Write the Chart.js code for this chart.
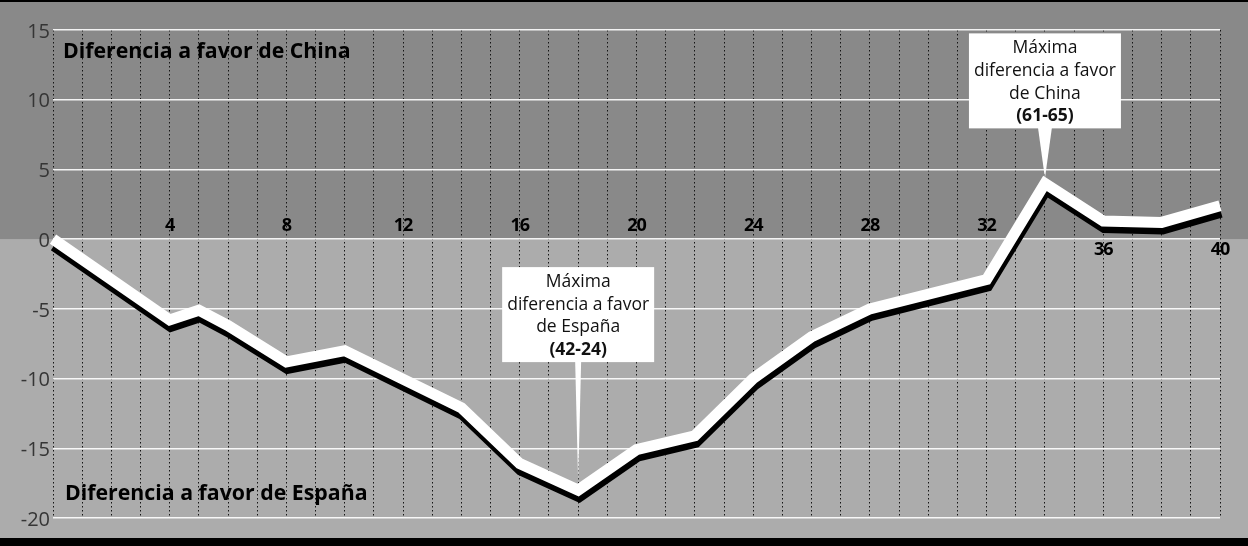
<!DOCTYPE html>
<html>
<head>
<meta charset="utf-8">
<script src="https://cdn.jsdelivr.net/npm/chart.js@4.4.1/dist/chart.umd.min.js"></script>
<style>
html, body { margin: 0; padding: 0; background: #a0a0a0; }
#wrap { width: 1248px; height: 546px; position: relative; }
</style>
</head>
<body>
<div id="wrap"><canvas id="chart"></canvas></div>
<script>
// Minute of the game and score difference (China minus España)
const minutes = [0, 4, 5, 6, 8, 10, 14, 16, 18, 20, 22, 24, 26, 28, 32, 34, 36, 38, 40];
const difference = [0, -5.8, -5.1, -6.2, -8.8, -8.0, -12.1, -16.1, -18, -15.1, -14.1, -10.0, -7.0, -5.0, -2.9, 4, 1.3, 1.2, 2.4];
const xTickLabels = [4, 8, 12, 16, 20, 24, 28, 32, 36, 40];
const yTickLabels = [15, 10, 5, 0, -5, -10, -15, -20];
const zoneLabels = ['Diferencia a favor de China', 'Diferencia a favor de España'];
const noteMinutes = [18, 34];
const noteValues = [-18, 4];
const noteTexts = [
    ['Máxima', 'diferencia a favor', 'de España', '(42-24)'],
    ['Máxima', 'diferencia a favor', 'de China', '(61-65)']
];


// value of the line at a given minute, only used to put x labels clear of the line
function LineAt(m) {
    for (let i = 1; i < minutes.length; i++) {
        if (m <= minutes[i]) {
            const t = (m - minutes[i-1]) / (minutes[i] - minutes[i-1]);
            return difference[i-1] + t * (difference[i] - difference[i-1]);
        }
    }
    return difference[difference.length-1];
}


const paper = {
    id: 'paper',
    beforeDraw(chart) {
        const ctx = chart.ctx;
        const zero = chart.scales.y.getPixelForValue(0);
        ctx.save();
        ctx.fillStyle = '#898989';
        ctx.fillRect(0, 0, chart.width, zero);
        ctx.fillStyle = '#acacac';
        ctx.fillRect(0, zero, chart.width, chart.height - zero);
        ctx.fillStyle = '#000';
        ctx.fillRect(0, 0, chart.width, 2);
        ctx.fillRect(0, chart.height - 8, chart.width, 8);
        ctx.restore();
    },
    beforeDatasetsDraw(chart) {
        // hard black shadow under the white line
        const ctx = chart.ctx;
        ctx.save();
        ctx.shadowColor = '#000';
        ctx.shadowBlur = 0;
        ctx.shadowOffsetX = 1;
        ctx.shadowOffsetY = 6.5;
    },
    afterDatasetsDraw(chart) {
        chart.ctx.restore();
    },
    afterDraw(chart) {
        const ctx = chart.ctx;
        const xs = chart.scales.x;
        const ys = chart.scales.y;
        ctx.save();

        // y labels
        ctx.font = '20px "Open Sans"';
        ctx.fillStyle = '#353535';
        ctx.textAlign = 'right';
        ctx.textBaseline = 'middle';
        yTickLabels.forEach(v => {
            ctx.fillText(String(v), 50, ys.getPixelForValue(v) + 2);
        });

        // x labels, on the side of the zero line away from the curve
        ctx.font = 'bold 18px "Open Sans"';
        ctx.letterSpacing = '-1px';
        ctx.fillStyle = '#000';
        ctx.textAlign = 'center';
        const zero = ys.getPixelForValue(0);
        xTickLabels.forEach(m => {
            const below = LineAt(m) > 0;
            ctx.fillText(String(m), xs.getPixelForValue(m), below ? zero + 11 : zero - 13);
        });
        ctx.letterSpacing = '0px';

        // zone labels
        ctx.font = 'bold 21.3px "Open Sans"';
        ctx.textAlign = 'left';
        ctx.fillText(zoneLabels[0], 63, ys.getPixelForValue(13.4));
        ctx.fillText(zoneLabels[1], 65, ys.getPixelForValue(-18.3));

        // callouts
        const lift = [215, 145];
        const tipGap = [8, 5];
        for (let i = 0; i < noteMinutes.length; i++) {
            const cx = xs.getPixelForValue(noteMinutes[i]);
            const tip = ys.getPixelForValue(noteValues[i]) - tipGap[i];
            const top = tip - lift[i];
            const w = 152, h = 95;
            ctx.fillStyle = '#fff';
            ctx.fillRect(cx - w / 2, top, w, h);
            ctx.beginPath();
            ctx.moveTo(cx - (i == 0 ? 3 : 7), top + h - 1);
            ctx.lineTo(cx + (i == 0 ? 3 : 7), top + h - 1);
            ctx.lineTo(cx, tip);
            ctx.closePath();
            ctx.fill();
            ctx.fillStyle = '#111';
            ctx.textAlign = 'center';
            ctx.textBaseline = 'middle';
            noteTexts[i].forEach((t, j) => {
                ctx.font = (j == 3 ? 'bold ' : '') + '17.5px "Open Sans"';
                ctx.fillText(t, cx, top + 15 + j * 22.6);
            });
        }
        ctx.restore();
    }
};


function ShowChart() {
    const points = [];
    for (let i = 0; i < minutes.length; i++) {
        points.push({x: minutes[i], y: difference[i]});
    }
    new Chart(document.getElementById('chart'), {
        type: 'line',
        data: {
            datasets: [{
                data: points,
                borderColor: '#fff',
                borderWidth: 11,
                borderJoinStyle: 'miter',
                borderCapStyle: 'butt',
                pointRadius: 0,
                tension: 0,
                clip: false
            }]
        },
        options: {
            responsive: false,
            animation: false,
            layout: { padding: { left: 53, right: 28, top: 30, bottom: 28 } },
            plugins: { legend: { display: false }, tooltip: { enabled: false } },
            scales: {
                x: {
                    type: 'linear',
                    min: 0,
                    max: 40,
                    ticks: { display: false, stepSize: 1 },
                    grid: { color: '#151515', lineWidth: 1, drawTicks: false },
                    border: { display: false, dash: [1.5, 2.5] }
                },
                y: {
                    min: -20,
                    max: 15,
                    ticks: { display: false, stepSize: 5 },
                    grid: { color: 'rgba(255,255,255,0.9)', lineWidth: 1.5, drawTicks: false },
                    border: { display: false }
                }
            }
        },
        plugins: [paper]
    });
}

document.getElementById('chart').width = 1248;
document.getElementById('chart').height = 546;
ShowChart();
</script>
</body>
</html>
